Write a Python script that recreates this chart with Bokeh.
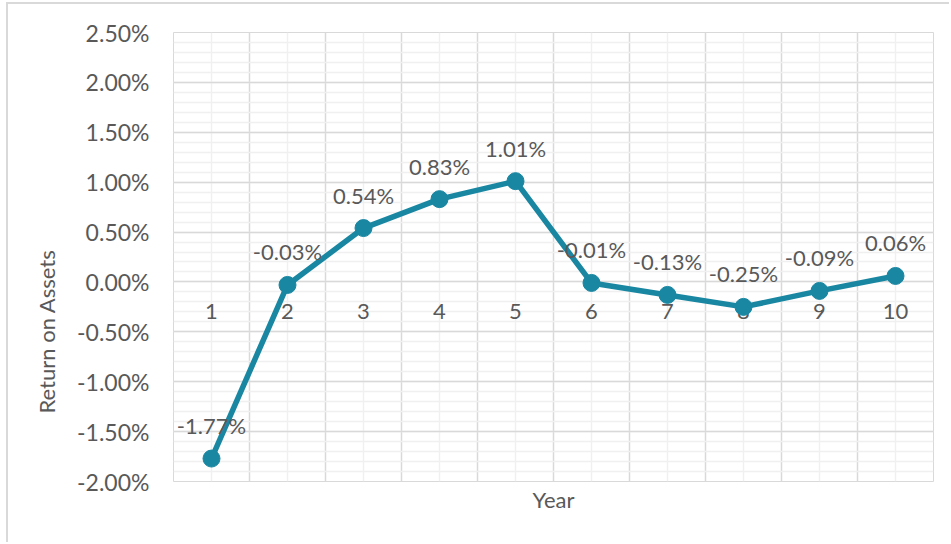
from bokeh.plotting import figure
from bokeh.models import (ColumnDataSource, FixedTicker, SingleIntervalTicker,
                          NumeralTickFormatter, Range1d, Title)
from bokeh.core.properties import value
from bokeh.embed import file_html
from bokeh.resources import INLINE

years = [1, 2, 3, 4, 5, 6, 7, 8, 9, 10]
roa = [-0.0177, -0.0003, 0.0054, 0.0083, 0.0101, -0.0001, -0.0013, -0.0025, -0.0009, 0.0006]
roa_labels = ["-1.77%", "-0.03%", "0.54%", "0.83%", "1.01%", "-0.01%", "-0.13%", "-0.25%", "-0.09%", "0.06%"]
year_labels = [str(y) for y in years]
x_title = "Year"
y_title = "Return on Assets"

FONT = "Lato"
TXT = "#595959"
LINE = "#1a87a2"
FS = "22px"

src = ColumnDataSource(dict(x=years, y=roa, lab=roa_labels,
                            zero=[0.0] * len(years), ylab=year_labels))

p = figure(width=943, height=540, output_backend="svg", toolbar_location=None,
           x_range=Range1d(0.5, 10.5), y_range=Range1d(-0.02, 0.025),
           min_border_left=165, min_border_top=28, min_border_right=18,
           min_border_bottom=63, background_fill_color="white",
           border_fill_color="white", outline_line_color="#d9d9d9")
p.styles = {"border-left": "2px solid #d9d9d9", "border-top": "2px solid #d9d9d9",
            "margin-left": "6px", "margin-top": "2px"}

# grids
p.xgrid.ticker = FixedTicker(ticks=[i + 0.5 for i in range(0, 11)],
                             minor_ticks=[float(y) for y in years])
p.xgrid.grid_line_color = "#d9d9d9"
p.xgrid.grid_line_width = 1.5
p.xgrid.minor_grid_line_color = "#f0f0f0"
p.xgrid.minor_grid_line_width = 1.5

yt = SingleIntervalTicker(interval=0.005, num_minor_ticks=5)
p.yaxis.ticker = yt
p.ygrid.ticker = yt
p.ygrid.grid_line_color = "#d9d9d9"
p.ygrid.grid_line_width = 1.5
p.ygrid.minor_grid_line_color = "#f0f0f0"
p.ygrid.minor_grid_line_width = 1.5

# axes
p.xaxis.visible = False
p.yaxis.formatter = NumeralTickFormatter(format="0.00%")
p.yaxis.axis_line_color = None
p.yaxis.major_tick_line_color = None
p.yaxis.minor_tick_line_color = None
p.yaxis.major_label_standoff = 18
p.yaxis.major_label_text_font = FONT
p.yaxis.major_label_text_font_size = "23px"
p.yaxis.major_label_text_color = TXT

p.add_layout(Title(text=y_title, text_font=FONT, text_font_size=FS,
                   text_color=TXT, text_font_style="normal", align="left",
                   offset=68, standoff=29), "left")
p.add_layout(Title(text=x_title, text_font=FONT, text_font_size=FS,
                   text_color=TXT, text_font_style="normal", align="center",
                   standoff=4), "below")

# category labels at zero line
p.text(x="x", y="zero", text="ylab", source=src, y_offset=30,
       text_align="center", text_baseline="middle",
       text_font=value(FONT), text_font_size=FS, text_color=TXT)

# series
p.line(x="x", y="y", source=src, line_color=LINE, line_width=5.5,
       line_join="round")
p.scatter(x="x", y="y", source=src, size=17, fill_color=LINE,
          line_color=LINE)

# data labels
p.text(x="x", y="y", text="lab", source=src, y_offset=-33,
       text_align="center", text_baseline="middle",
       text_font=value(FONT), text_font_size=FS, text_color=TXT)

open("out.html", "w").write(file_html(p, INLINE))
